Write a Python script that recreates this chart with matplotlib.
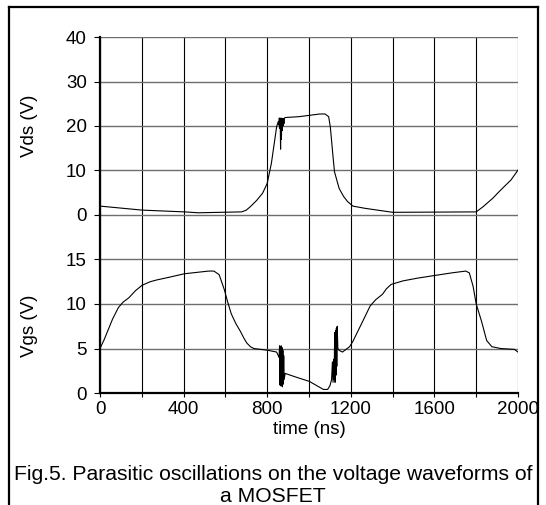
import matplotlib
matplotlib.use("Agg")
import matplotlib.pyplot as plt
from matplotlib.lines import Line2D

plt.rcParams['font.family'] = ['Liberation Sans', 'DejaVu Sans']

# Drain-source voltage (V) vs time (ns)
vds_t = [0, 201, 404, 470, 678, 700, 720, 750, 778, 800, 820, 845, 853, 856, 858, 860, 862, 864, 866, 868,
         870, 872, 874, 876, 878, 880, 882, 885, 953, 1052, 1077, 1094, 1102, 1115, 1122, 1144,
         1165, 1185, 1210, 1268, 1401, 1800, 1834, 1880, 1917, 1967, 2000]
vds_v = [2.0, 1.1, 0.7, 0.5, 0.7, 1.1, 1.9, 3.3, 4.9, 7.1, 11.6, 19.8, 21.0, 20.2, 21.8, 19.5, 21.7, 14.8, 21.8, 17.0,
         21.7, 19.0, 21.7, 20.0, 21.6, 20.5, 21.7, 21.9, 22.1, 22.7, 22.7, 22.1, 19.8, 13.1, 9.7, 6.0,
         4.2, 3.0, 2.0, 1.5, 0.6, 0.7, 1.9, 3.8, 5.6, 7.9, 10.1]

# Gate-source voltage (V) vs time (ns)
vgs_t = [0, 20, 60, 88, 110, 138, 170, 201, 240, 271, 330, 404, 520, 545, 570, 595, 610, 628, 650, 670,
         690, 703, 720, 736, 803, 845, 855,
         857, 859, 861, 863, 865, 867, 869, 871, 873, 875, 877, 879, 881, 886, 936, 1002, 1069,
         1089, 1100, 1108, 1112, 1115, 1118, 1120, 1123, 1125, 1127, 1129, 1131, 1133, 1135, 1138,
         1144, 1160, 1194, 1210, 1235, 1260, 1293, 1320, 1352, 1370, 1393, 1450, 1518, 1600, 1684,
         1750, 1767, 1785, 1800, 1825, 1850, 1875, 1917, 1983, 2000]
vgs_v = [5.0, 6.0, 8.3, 9.6, 10.2, 10.7, 11.5, 12.1, 12.5, 12.7, 13.0, 13.4, 13.7, 13.7, 13.3, 11.6, 10.3, 8.9, 7.8, 7.0,
         6.1, 5.6, 5.2, 5.0, 4.8, 4.6, 4.1,
         4.0, 5.3, 0.9, 5.2, 0.8, 5.3, 0.8, 5.1, 0.7, 4.8, 1.0, 4.2, 1.5, 2.2, 1.8, 1.3, 0.4,
         0.4, 0.8, 1.5, 3.5, 1.2, 3.8, 1.5, 6.8, 1.2, 7.0, 2.0, 7.3, 3.0, 7.5, 5.0,
         4.8, 4.6, 5.2, 5.8, 7.0, 8.2, 9.8, 10.5, 11.1, 11.7, 12.2, 12.6, 12.9, 13.2, 13.5,
         13.7, 13.5, 12.0, 10.0, 8.1, 5.9, 5.2, 5.0, 4.9, 4.6]

x_ticks = [0, 400, 800, 1200, 1600, 2000]
x_grid = list(range(0, 2001, 200))
vds_ticks = [0, 10, 20, 30, 40]
vgs_ticks = [0, 5, 10, 15]

W, H = 546, 505
fig = plt.figure(figsize=(W / 100, H / 100), dpi=100)

L, R = 100 / W, 518 / W
y_top, y_mid, y_bot = 1 - 37 / H, 1 - 215 / H, 1 - 393 / H
ax1 = fig.add_axes([L, y_mid, R - L, y_top - y_mid])
ax2 = fig.add_axes([L, y_bot, R - L, y_mid - y_bot])

FS = 13.5
hcol = '#6e6e6e'
for ax in (ax1, ax2):
    ax.set_xlim(0, 2000)
    for s in ('top', 'right', 'bottom'):
        ax.spines[s].set_visible(False)
    ax.spines['left'].set_linewidth(1.6)
    ax.spines['left'].set_color('black')
    for xg in x_grid:
        ax.axvline(xg, color='black', lw=0.8, zorder=1)
    ax.tick_params(axis='y', length=4.5, width=0.8, pad=5, labelsize=FS, colors='black')
    ax.set_facecolor('white')

ax1.set_ylim(0, 40)
ax1.set_yticks(vds_ticks)
for yv in vds_ticks:
    ax1.axhline(yv, color=hcol, lw=1.0, zorder=1)
ax1.set_xticks([])
ax1.plot(vds_t, vds_v, color='black', lw=0.8, zorder=3)
ax1.set_ylabel('Vds (V)', fontsize=FS)
ax1.yaxis.set_label_coords(-0.148, 0.5)

ax2.set_ylim(0, 20)
ax2.set_yticks(vgs_ticks)
for yv in vgs_ticks[1:] + [20]:
    ax2.axhline(yv, color=hcol, lw=1.0, zorder=1)
ax2.spines['bottom'].set_visible(True)
ax2.spines['bottom'].set_linewidth(1.6)
ax2.set_xticks(x_grid)
ax2.set_xticklabels([str(v) if v in x_ticks else '' for v in x_grid])
ax2.tick_params(axis='x', length=3, width=0.8, pad=3, labelsize=FS)
ax2.plot(vgs_t, vgs_v, color='black', lw=0.8, zorder=3)
ax2.set_ylabel('Vgs (V)', fontsize=FS)
ax2.yaxis.set_label_coords(-0.148, 7.5 / 20)
ax2.set_xlabel('time (ns)', fontsize=FS, labelpad=2)

# caption
CFS = 15.2
cx = 273 / W
fig.text(cx, 1 - 475 / H, 'Fig.5. Parasitic oscillations on the voltage waveforms of',
         ha='center', va='center', fontsize=CFS)
fig.text(cx, 1 - 496 / H, 'a MOSFET', ha='center', va='center', fontsize=CFS)

# outer frame (open at the bottom)
fx0, fx1, fy1 = 9 / W, 538 / W, 1 - 7 / H
for xs, ys in (([fx0, fx0], [0, fy1]), ([fx1, fx1], [0, fy1]), ([fx0, fx1], [fy1, fy1])):
    fig.add_artist(Line2D(xs, ys, transform=fig.transFigure, color='black', lw=1.6))

fig.savefig('out.png', dpi=100)
